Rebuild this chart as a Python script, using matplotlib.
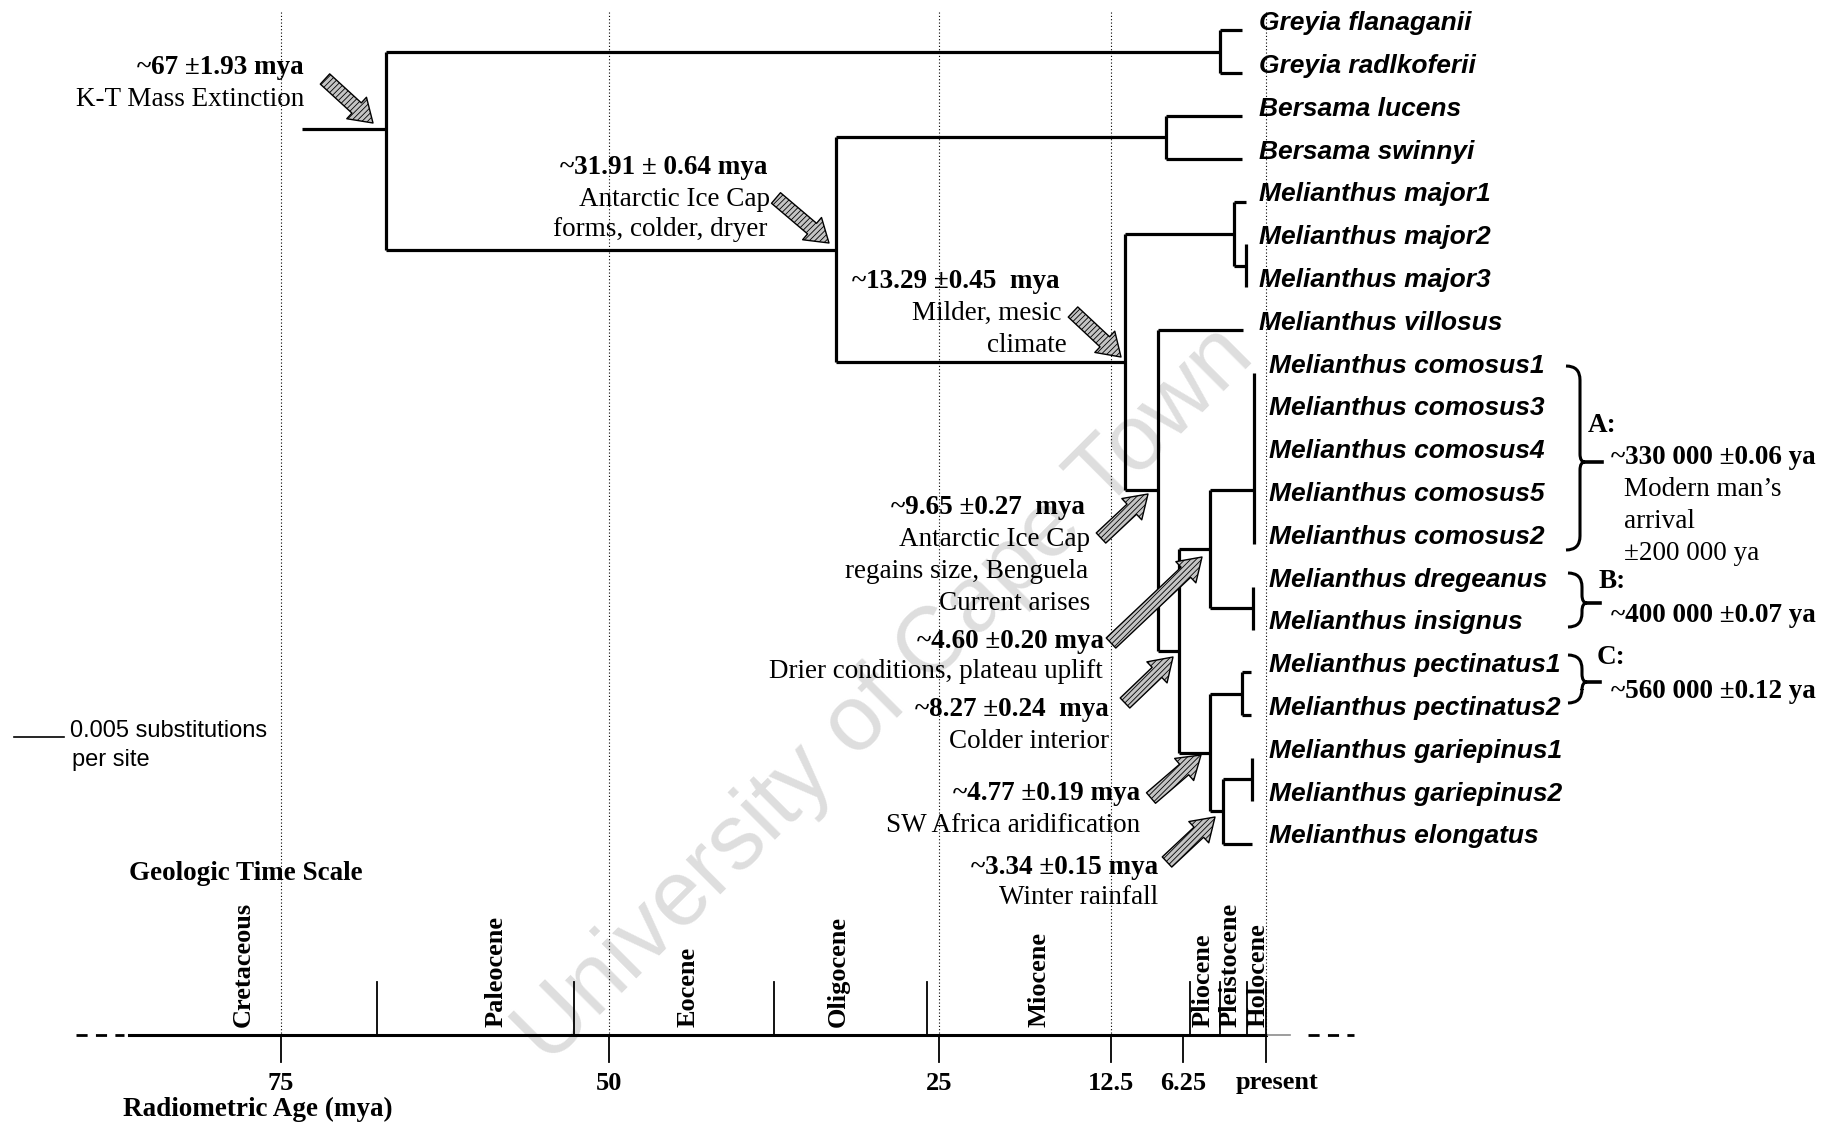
import matplotlib
matplotlib.use("Agg")
import matplotlib.pyplot as plt
import numpy as np
from matplotlib.patches import FancyArrowPatch, PathPatch
from matplotlib.path import Path
from matplotlib.transforms import Affine2D, ScaledTranslation, blended_transform_factory

plt.rcParams["hatch.linewidth"] = 0.6

W, H = 1834, 1124

# ---- data ----
leaves = ["Greyia flanaganii", "Greyia radlkoferii", "Bersama lucens",
          "Bersama swinnyi", "Melianthus major1", "Melianthus major2",
          "Melianthus major3", "Melianthus villosus", "Melianthus comosus1",
          "Melianthus comosus3", "Melianthus comosus4", "Melianthus comosus5",
          "Melianthus comosus2", "Melianthus dregeanus", "Melianthus insignus",
          "Melianthus pectinatus1", "Melianthus pectinatus2",
          "Melianthus gariepinus1", "Melianthus gariepinus2",
          "Melianthus elongatus"]
# where each tip branch ends (mya, on the drawn time scale)
leaf_tips = [1.8, 1.8, 1.8, 1.8, 1.5, 1.5, 1.5, 1.7,
             0.9, 0.9, 0.9, 0.9, 0.9, 1.0, 1.0,
             1.1, 1.1, 1.05, 1.05, 1.09]

node_names = ["root", "greyia", "n2", "bersama", "n3", "major", "major23",
              "n4", "n5", "n6", "comosus", "dreg", "n7", "pect", "n8", "gariep"]
node_ages = [67.0, 3.46, 32.8, 7.73, 11.3, 2.41, 1.54,
             8.42, 6.6, 4.18, 0.9, 1.0, 4.18, 1.81, 3.21, 1.09]
node_children = [
    ["greyia", "n2"],
    ["Greyia flanaganii", "Greyia radlkoferii"],
    ["bersama", "n3"],
    ["Bersama lucens", "Bersama swinnyi"],
    ["major", "n4"],
    ["Melianthus major1", "major23"],
    ["Melianthus major2", "Melianthus major3"],
    ["Melianthus villosus", "n5"],
    ["n6", "n7"],
    ["comosus", "dreg"],
    ["Melianthus comosus1", "Melianthus comosus3", "Melianthus comosus4",
     "Melianthus comosus5", "Melianthus comosus2"],
    ["Melianthus dregeanus", "Melianthus insignus"],
    ["pect", "n8"],
    ["Melianthus pectinatus1", "Melianthus pectinatus2"],
    ["gariep", "Melianthus elongatus"],
    ["Melianthus gariepinus1", "Melianthus gariepinus2"],
]
root_stem_age = 73.4
# branches that meet a node away from its midpoint
node_y_read = {"root": 2.3, "comosus": 10.75}

grid_ages = [75, 50, 25, 12.5, 0]
scale_ticks = [75, 50, 25, 12.5, 6.25, 0]
scale_labels = ["75", "50", "25", "12.5", "6.25", "present"]
epochs = ["Cretaceous", "Paleocene", "Eocene", "Oligocene", "Miocene",
          "Pliocene", "Pleistocene", "Holocene"]
epoch_mid = [77.9, 58.6, 44.0, 32.6, 17.7, 4.74, 2.7, 0.6]
epoch_bounds = [67.7, 52.7, 37.5, 25.9, 5.7, 3.5, 1.4, 0]

# ---- the hand-drawn time axis is piecewise linear ----
anchor_age = np.array([100, 75, 50, 25, 12.5, 6.25, 0, -60])
anchor_px = np.array([281 - 25 * 13.12, 281, 609, 939, 1111, 1183, 1266,
                      1266 + 60 * 13.28])


def fwd(a):
    return -np.interp(-np.asarray(a, float), -anchor_age, anchor_px)


def inv(v):
    return -np.interp(-np.asarray(v, float), anchor_px, -anchor_age)


fig = plt.figure(figsize=(W / 100, H / 100), dpi=100)
ax = fig.add_axes([0, 0, 1, 1])
ax.set_xscale("function", functions=(fwd, inv))
ax.set_xlim(inv(-0.0), inv(-W))
unit = 42.8
ax.set_ylim((H - 30.4) / unit, -30.4 / unit)
ax.axis("off")

pix = Affine2D().scale(1 / W, -1 / H).translate(0, 1) + fig.transFigure
age_pix = blended_transform_factory(ax.transData, pix)
pix_y = blended_transform_factory(pix, ax.transData)

serif = "Liberation Serif"
sans = "Liberation Sans"

# ---- tree ----
node_idx = {n: i for i, n in enumerate(node_names)}
ypos = {name: i for i, name in enumerate(leaves)}
age_of = {name: t for name, t in zip(leaves, leaf_tips)}


def place(name):
    if name in ypos:
        return ypos[name]
    ys = [place(c) for c in node_children[node_idx[name]]]
    ypos[name] = node_y_read.get(name, float(np.mean(ys)))
    age_of[name] = node_ages[node_idx[name]]
    return ypos[name]


place("root")
tree_kw = dict(color="black", lw=2.3, solid_capstyle="butt", zorder=3)
for name, age, kids in zip(node_names, node_ages, node_children):
    ky = [ypos[k] for k in kids]
    ax.plot([age, age], [min(ky), max(ky)], **tree_kw)
    for k in kids:
        if age_of[k] < age:
            ax.plot([age, age_of[k]], [ypos[k], ypos[k]], **tree_kw)
ax.plot([root_stem_age, node_ages[0]], [ypos["root"]] * 2, **tree_kw)

for i, name in enumerate(leaves):
    ax.text(1259 if i < 8 else 1269, i - 0.17, name, transform=pix_y,
            ha="left", va="center", fontsize=19, family=sans,
            style="italic", weight="bold")

# ---- dotted guides and geologic time scale ----
for a in grid_ages:
    ax.plot([a, a], [12, 1035], transform=age_pix, color="black", lw=0.8,
            ls=(0, (1, 2)), zorder=1)
ax.plot([86.6, 0], [1035, 1035], transform=age_pix, color="black", lw=2.2)
ax.plot([0, -1.8], [1035, 1035], transform=age_pix, color="0.55", lw=1.2)
ax.plot([90.6, 87.0], [1035, 1035], transform=age_pix, color="black", lw=2,
        ls=(0, (4, 3)))
ax.plot([-3.2, -6.6], [1035, 1035], transform=age_pix, color="black", lw=2,
        ls=(0, (4, 3)))
for a in epoch_bounds:
    ax.plot([a, a], [982, 1035], transform=age_pix, color="black", lw=1.3)
nudge = ScaledTranslation(0.11, 0, fig.dpi_scale_trans)
for a, lab in zip(scale_ticks, scale_labels):
    ax.plot([a, a], [1035, 1062], transform=age_pix, color="black", lw=1.3)
    ax.text(a, 1083, lab,
            transform=age_pix + nudge if lab == "present" else age_pix,
            ha="center", va="center", fontsize=19, family=serif,
            weight="bold")
for a, lab in zip(epoch_mid, epochs):
    ax.text(a, 1027, lab, transform=age_pix, rotation=90, ha="center",
            va="bottom", fontsize=19, family=serif, weight="bold")

ax.text(129, 874, "Geologic Time Scale", transform=pix, ha="left",
        va="center", fontsize=19.5, family=serif, weight="bold")
ax.text(123, 1109, "Radiometric Age (mya)", transform=pix, ha="left",
        va="center", fontsize=19.5, family=serif, weight="bold")

# scale bar
ax.plot([14, 64], [737, 737], transform=pix, color="black", lw=1.2)
ax.text(70, 731, "0.005 substitutions", transform=pix, ha="left",
        va="center", fontsize=17, family=sans)
ax.text(72, 760, "per site", transform=pix, ha="left", va="center",
        fontsize=17, family=sans)

# ---- event notes ----
notes = [
    (304, 68, "~67 ±1.93 mya", True),
    (304, 99, "K-T Mass Extinction", False),
    (767, 167, "~31.91 ± 0.64 mya", True),
    (770, 199, "Antarctic Ice Cap", False),
    (767, 230, "forms, colder, dryer", False),
    (1059, 282, "~13.29 ±0.45  mya", True),
    (1062, 313, "Milder, mesic", False),
    (1067, 346, "climate", False),
    (1085, 508, "~9.65 ±0.27  mya", True),
    (1090, 539, "Antarctic Ice Cap", False),
    (1088, 572, "regains size, Benguela", False),
    (1090, 603, "Current arises", False),
    (1104, 641, "~4.60 ±0.20 mya", True),
    (1103, 672, "Drier conditions, plateau uplift", False),
    (1109, 710, "~8.27 ±0.24  mya", True),
    (1109, 741, "Colder interior", False),
    (1140, 793, "~4.77 ±0.19 mya", True),
    (1140, 825, "SW Africa aridification", False),
    (1158, 867, "~3.34 ±0.15 mya", True),
    (1158, 898, "Winter rainfall", False),
]
for x, y, s, b in notes:
    ax.text(x, y, s, transform=pix, ha="right", va="center", fontsize=19.5,
            family=serif, weight="bold" if b else "normal", zorder=4)

side_notes = [
    (1611, 458, "~330 000 ±0.06 ya", True),
    (1624, 490, "Modern man’s", False),
    (1624, 522, "arrival", False),
    (1624, 553, "±200 000 ya", False),
    (1611, 615, "~400 000 ±0.07 ya", True),
    (1611, 692, "~560 000 ±0.12 ya", True),
    (1588, 425, "A:", True),
    (1599, 581, "B:", True),
    (1597, 658, "C:", True),
]
for x, y, s, b in side_notes:
    ax.text(x, y, s, transform=pix, ha="left", va="center", fontsize=19.5,
            family=serif, weight="bold" if b else "normal")

arrows = [((325, 79), (373, 123)), ((776, 198), (829, 243)),
          ((1073, 312), (1121, 357)), ((1101, 538), (1148, 494)),
          ((1111, 643), (1202, 557)), ((1125, 703), (1173, 657)),
          ((1151, 798), (1201, 755)), ((1167, 862), (1215, 817))]
for tail, head in arrows:
    ax.add_patch(FancyArrowPatch(
        tail, head, transform=pix, shrinkA=0, shrinkB=0,
        arrowstyle="simple,head_length=0.8,head_width=1.05,tail_width=0.5",
        mutation_scale=20, facecolor="#c4c4c4", edgecolor="black",
        hatch="//////", lw=1.0, zorder=5))


def brace(x0, y0, y1, ym, tip_end):
    w = 14
    verts = [(x0, y0), (x0 + w, y0), (x0 + w, y0 + 14),
             (x0 + w, ym - 8), (x0 + w, ym), (x0 + w + 5, ym),
             (x0 + w, ym), (x0 + w, ym + 8),
             (x0 + w, y1 - 14), (x0 + w, y1), (x0, y1)]
    codes = [Path.MOVETO, Path.CURVE3, Path.CURVE3, Path.LINETO,
             Path.CURVE3, Path.CURVE3, Path.CURVE3, Path.CURVE3,
             Path.LINETO, Path.CURVE3, Path.CURVE3]
    ax.add_patch(PathPatch(Path(verts, codes), transform=pix, fill=False,
                           lw=2.2, edgecolor="black"))
    ax.plot([x0 + w + 5, tip_end], [ym, ym], transform=pix, color="black",
            lw=2.6)


brace(1566, 366, 550, 462, 1602)
brace(1568, 573, 627, 603, 1600)
brace(1568, 655, 703, 682, 1600)

# watermark
ax.text(885, 696, "University of Cape Town", transform=pix, rotation=45,
        ha="center", va="center", fontsize=67, family=sans, color="#dedede",
        zorder=0)

fig.savefig("out.png", dpi=100)
